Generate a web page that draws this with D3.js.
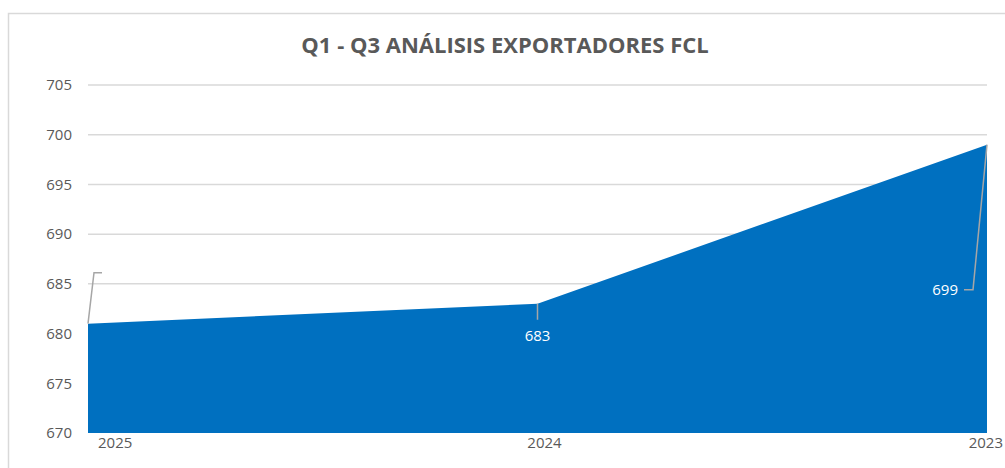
<!DOCTYPE html>
<html>
<head>
<meta charset="utf-8">
<script src="https://cdn.jsdelivr.net/npm/d3@7"></script>
<style>
  body { margin: 0; background: #fff; }
  svg text { font-family: "Open Sans", "Liberation Sans", sans-serif; }
</style>
</head>
<body>
<div id="chart"></div>
<script>
var years = ["2025", "2024", "2023"];
var exportadores = [681, 683, 699];
var yTicks = [670, 675, 680, 685, 690, 695, 700, 705];

var width = 1005, height = 468;
var margin = {top: 85, right: 18, bottom: 35, left: 88};

var svg = d3.select("#chart").append("svg")
  .attr("width", width)
  .attr("height", height);

// chart frame
svg.append("rect")
  .attr("x", 8.5).attr("y", 13.5)
  .attr("width", 1010).attr("height", 470)
  .attr("fill", "none")
  .attr("stroke", "#d9d9d9")
  .attr("stroke-width", 1.5);

svg.append("text")
  .attr("x", 505).attr("y", 53)
  .attr("text-anchor", "middle")
  .attr("font-size", "22px")
  .attr("font-weight", "bold")
  .attr("fill", "#595959")
  .text("Q1 - Q3 ANÁLISIS EXPORTADORES FCL");

var x = d3.scalePoint()
  .domain(years)
  .range([margin.left, width - margin.right]);

var y = d3.scaleLinear()
  .domain([670, 705])
  .range([height - margin.bottom, margin.top]);

// gridlines
svg.append("g")
  .selectAll("line")
  .data(yTicks.slice(1))
  .enter().append("line")
  .attr("x1", margin.left)
  .attr("x2", width - margin.right)
  .attr("y1", function(d) { return y(d); })
  .attr("y2", function(d) { return y(d); })
  .attr("stroke", "#d9d9d9")
  .attr("stroke-width", 1.5);

// area
var data = years.map(function(d, i) { return {year: d, value: exportadores[i]}; });

var area = d3.area()
  .x(function(d) { return x(d.year); })
  .y0(y(670))
  .y1(function(d) { return y(d.value); });

svg.append("path")
  .datum(data)
  .attr("d", area)
  .attr("fill", "#0070c0");

// y axis labels
var yAxis = d3.axisLeft(y).tickValues(yTicks).tickSize(0).tickPadding(16);
var gy = svg.append("g")
  .attr("transform", "translate(" + margin.left + ",0)")
  .call(yAxis);
gy.select(".domain").remove();
gy.selectAll("text")
  .attr("font-size", "15px")
  .attr("fill", "#595959")
  .attr("font-family", "Open Sans, Liberation Sans, sans-serif");

// x axis labels
var xAnchor = ["start", "middle", "end"];
var xShift = [10, 7, 16];
svg.append("g")
  .selectAll("text")
  .data(years)
  .enter().append("text")
  .attr("x", function(d, i) { return x(d) + xShift[i]; })
  .attr("y", height - 20)
  .attr("text-anchor", function(d, i) { return xAnchor[i]; })
  .attr("font-size", "15px")
  .attr("fill", "#595959")
  .text(function(d) { return d; });

// data labels with leader lines
var labelPos = [
  {dx: 6, dy: -51, hx: 14, anchor: "start", tx: 17, ty: 5},
  {dx: 0, dy: 16, hx: 0, anchor: "middle", tx: 0, ty: 21},
  {dx: -14, dy: 145, hx: -23, anchor: "end", tx: -29, ty: 5}
];

var lab = svg.append("g");
data.forEach(function(d, i) {
  var p = labelPos[i];
  var px = x(d.year), py = y(d.value);
  var pts = [[px, py], [px + p.dx, py + p.dy], [px + p.hx, py + p.dy]];
  lab.append("path")
    .attr("d", d3.line()(pts))
    .attr("fill", "none")
    .attr("stroke", "#a6a6a6")
    .attr("stroke-width", 1.5);
  lab.append("text")
    .attr("x", px + p.tx)
    .attr("y", py + p.dy + p.ty)
    .attr("text-anchor", p.anchor)
    .attr("font-size", "15px")
    .attr("fill", "#ffffff")
    .text(d.value);
});
</script>
</body>
</html>
